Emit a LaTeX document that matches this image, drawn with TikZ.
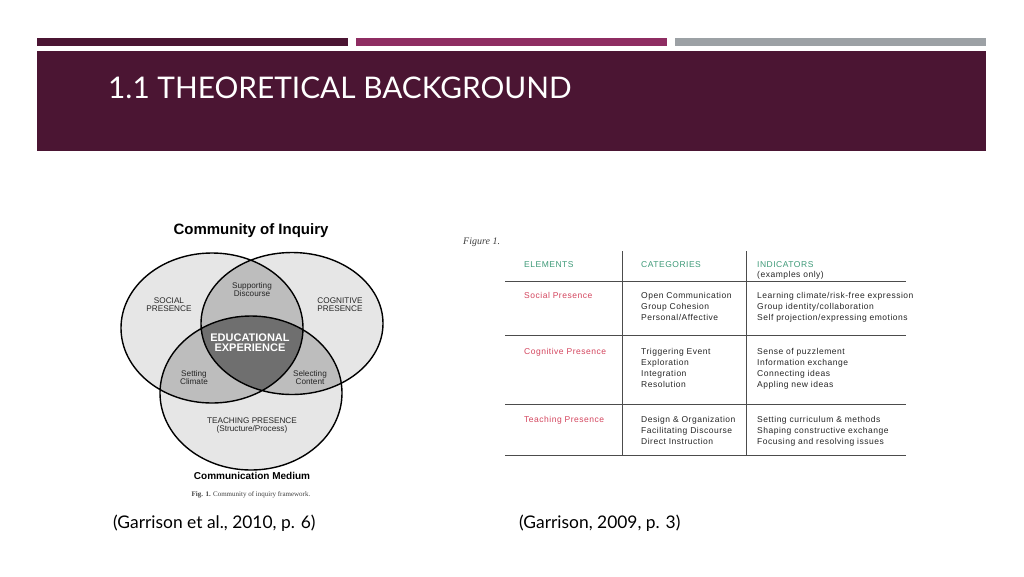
\documentclass[tikz,border=0pt]{standalone}
\usepackage{fontspec}
\setmainfont{Liberation Sans}
\newfontfamily\gillfont{Lato}
\newfontfamily\tabfont[LetterSpace=6]{Liberation Sans}
\newfontfamily\timesfont{Liberation Serif}
\definecolor{wine}{HTML}{4B1533}
\definecolor{plum}{HTML}{8E2D62}
\definecolor{slate}{HTML}{9CA1A5}
\definecolor{hdgreen}{HTML}{3E9A78}
\definecolor{rowred}{HTML}{D4455E}
\definecolor{vlight}{HTML}{E6E6E6}
\definecolor{vmid}{HTML}{BDBDBD}
\definecolor{vdark}{HTML}{6F6F6F}
\begin{document}
\begin{tikzpicture}[x=1pt,y=-1pt,
    lbl/.style={font=\fontsize{8.2}{8}\selectfont,align=center,text=black!85,inner sep=0pt},
    hd/.style={font=\tabfont\fontsize{8.5}{11}\selectfont,text=hdgreen,anchor=base west,inner sep=0pt},
    el/.style={hd,text=rowred},
    cell/.style={hd,text=black!85,align=left},
    refcap/.style={font=\gillfont\fontsize{17.4}{17.4}\selectfont,anchor=base west,inner sep=0pt},
    rule/.style={draw=black!70,line width=0.9pt},
    sell/.style={x radius=91,y radius=75},
    cell2/.style={x radius=91,y radius=71},
    tell/.style={x radius=91,y radius=77}]
\useasboundingbox[fill=white] (0,0) rectangle (1024,576);
\fill[wine] (37,38) rectangle (348,46);
\fill[plum] (356,38) rectangle (667,46);
\fill[slate] (675,38) rectangle (986,46);
\fill[wine] (37,51) rectangle (986,151);
\node[anchor=base west,inner sep=0pt,text=white,font=\gillfont\fontsize{29.8}{29.8}\selectfont] (title) at (108,98) {1.1 THEORETICAL BACKGROUND};

\coordinate (s) at (212,328);
\coordinate (c) at (292,323.5);
\coordinate (t) at (251,393);
\fill[vlight] (s) ellipse[sell] (c) ellipse[cell2] (t) ellipse[tell];
\begin{scope}
  \clip (s) ellipse[sell];
  \fill[vmid] (c) ellipse[cell2] (t) ellipse[tell];
\end{scope}
\begin{scope}
  \clip (c) ellipse[cell2];
  \fill[vmid] (t) ellipse[tell];
\end{scope}
\begin{scope}
  \clip (s) ellipse[sell];
  \clip (c) ellipse[cell2];
  \fill[vdark] (t) ellipse[tell];
\end{scope}
\draw[line width=1.4pt] (s) ellipse[sell] (c) ellipse[cell2] (t) ellipse[tell];

\node[font=\bfseries\fontsize{15}{15}\selectfont] (coi) at (251,231) {Community of Inquiry};
\node[lbl] (sd) at (252,290) {Supporting\\Discourse};
\node[lbl] (sop) at (169,305) {SOCIAL\\PRESENCE};
\node[lbl] (cop) at (340,305) {COGNITIVE\\PRESENCE};
\node[lbl,text=white,font=\bfseries\fontsize{11}{9.5}\selectfont] (ee) at (250,342.5) {EDUCATIONAL\\EXPERIENCE};
\node[lbl] (sc) at (194,377.5) {Setting\\Climate};
\node[lbl] (slc) at (310,377.5) {Selecting\\Content};
\node[lbl] (tp) at (252,425) {TEACHING PRESENCE\\(Structure/Process)};
\node[font=\bfseries\fontsize{10}{10}\selectfont] (cm) at (252,476) {Communication Medium};
\node[font=\timesfont\fontsize{7}{7}\selectfont,text=black!75] (fig) at (251,495) {\textbf{Fig. 1.} Community of inquiry framework.};

\node[anchor=west,inner sep=0pt,font=\timesfont\itshape\fontsize{10}{10}\selectfont,text=black!75] (f1) at (463,242) {Figure 1.};
\draw[rule] (505,281) -- (906,281);
\draw[rule] (505,335) -- (906,335);
\draw[rule] (505,404) -- (906,404);
\draw[rule] (505,455) -- (906,455);
\draw[rule] (622,251) -- (622,455);
\draw[rule] (746,251) -- (746,455);
\node[hd] (elh) at (524,267) {ELEMENTS};
\node[hd] (cath) at (641,267) {CATEGORIES};
\node[hd] (indh) at (757,267) {INDICATORS};
\node[cell] (exo) at (757,277) {(examples only)};
\node[el] (sp) at (524,298) {Social Presence};
\node[cell] (spc) at (641,320) {Open Communication\\Group Cohesion\\Personal/Affective};
\node[cell] (spi) at (757,320) {Learning climate/risk-free expression\\Group identity/collaboration\\Self projection/expressing emotions};
\node[el] (cp) at (524,354) {Cognitive Presence};
\node[cell] (cpc) at (641,387) {Triggering Event\\Exploration\\Integration\\Resolution};
\node[cell] (cpi) at (757,387) {Sense of puzzlement\\Information exchange\\Connecting ideas\\Appling new ideas};
\node[el] (tpr) at (524,422) {Teaching Presence};
\node[cell] (tpc) at (641,444) {Design \& Organization\\Facilitating Discourse\\Direct Instruction};
\node[cell] (tpi) at (757,444) {Setting curriculum \& methods\\Shaping constructive exchange\\Focusing and resolving issues};

\node[refcap] (cl) at (113,528) {(Garrison et al., 2010, p. 6)};
\node[refcap] (cr) at (519,528) {(Garrison, 2009, p. 3)};
\end{tikzpicture}
\end{document}
